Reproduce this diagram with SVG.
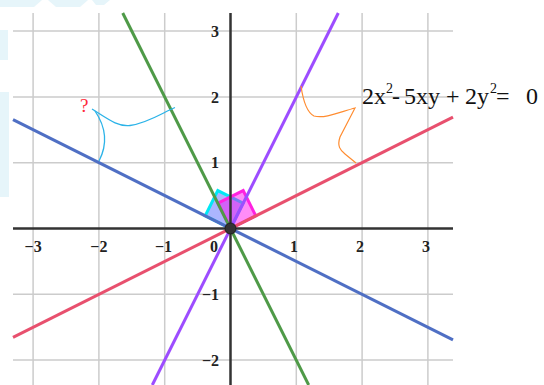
<svg xmlns="http://www.w3.org/2000/svg" width="544" height="385" viewBox="0 0 544 385">
<style>
.grid{stroke:#cccccc;stroke-width:1.5;fill:none}
.axis{stroke:#333333;stroke-width:2.5;fill:none}
.lab{font-family:"Liberation Serif","Times New Roman",serif;font-weight:bold;font-size:16px;fill:#222222}
.ln{stroke-width:3;fill:none;stroke-linecap:butt}
.eq{font-family:"Liberation Serif","Times New Roman",serif;font-size:24px;fill:#111111}
.sup{font-size:14px}
.wm{fill:#e6f5fa}
</style>
<rect width="544" height="385" fill="#ffffff"/>
<g id="watermark">
<polygon class="wm" points="0,0 42,0 34,7 0,7"/>
<polygon class="wm" points="48,0 88,0 80,7 56,7"/>
<polygon class="wm" points="92,0 110,0 104,5 96,5"/>
<rect class="wm" x="0" y="30" width="8" height="30"/>
<rect class="wm" x="0" y="92" width="9" height="105"/>
</g>
<g id="grid">
<path class="grid" d="M33.1,13V385M98.9,13V385M164.7,13V385M296.3,13V385M362.1,13V385M427.9,13V385"/>
<path class="grid" d="M13,31.1H453M13,96.9H453M13,162.7H453M13,294.3H453M13,360.1H453"/>
</g>
<g id="right-angles">
<polygon points="230.5,228.5 205.2,215.9 217.8,190.6 243.1,203.2" fill="#5a6cff" fill-opacity="0.5" stroke="#00e8f5" stroke-width="3" stroke-linejoin="miter"/>
<polygon points="230.5,228.5 217.9,203.2 243.2,190.6 255.8,215.9" fill="#ff00f0" fill-opacity="0.45" stroke="#ff22e0" stroke-width="3" stroke-linejoin="miter"/>
</g>
<g id="axes">
<path class="axis" d="M13,228.5H453M230.5,13V385"/>
</g>
<g id="lines">
<line id="blue" class="ln" x1="13" y1="119.7" x2="453" y2="339.8" stroke="#4f6fc4"/>
<line id="red" class="ln" x1="13" y1="337.3" x2="453" y2="117.2" stroke="#e8506e"/>
<line id="purple" class="ln" x1="338.3" y1="13" x2="152.3" y2="385" stroke="#9d4dff"/>
<line id="green" class="ln" x1="122.7" y1="13" x2="308.7" y2="385" stroke="#4f9a48"/>
</g>
<circle id="origin" cx="230.5" cy="228.5" r="5.5" fill="#333333" stroke="#1a1a1a" stroke-width="1"/>
<g id="labels">
<text class="lab" x="219" y="37" text-anchor="end">3</text>
<text class="lab" x="219" y="103" text-anchor="end">2</text>
<text class="lab" x="219" y="168" text-anchor="end">1</text>
<text class="lab" x="219" y="300" text-anchor="end">−1</text>
<text class="lab" x="219" y="366" text-anchor="end">−2</text>
<text class="lab" x="33.1" y="252" text-anchor="middle">−3</text>
<text class="lab" x="98.9" y="252" text-anchor="middle">−2</text>
<text class="lab" x="163.5" y="252" text-anchor="middle">−1</text>
<text class="lab" x="214" y="252" text-anchor="middle">0</text>
<text class="lab" x="294" y="252" text-anchor="middle">1</text>
<text class="lab" x="360" y="252" text-anchor="middle">2</text>
<text class="lab" x="426" y="252" text-anchor="middle">3</text>
</g>
<g id="equation">
<text class="eq" y="104"><tspan x="362">2x</tspan><tspan class="sup" x="386" y="93">2</tspan><tspan x="392" y="104">-</tspan><tspan x="404">5xy</tspan><tspan x="446">+</tspan><tspan x="465">2y</tspan><tspan class="sup" x="490" y="93">2</tspan><tspan x="496" y="104">=</tspan><tspan x="526">0</tspan></text>
</g>
<g id="callouts">
<text x="80" y="112" font-family="Liberation Serif, Times New Roman, serif" font-size="19" fill="#ff2a3a">?</text>
<path d="M92,109 C108,119 118,127 130,125.5 C148,123 162,113 175,107.5" fill="none" stroke="#2bb3e8" stroke-width="1.3"/>
<path d="M95,111 Q112,136 99,161" fill="none" stroke="#2bb3e8" stroke-width="1.3"/>
<path d="M301,86 C303,100 306,112 314,116 C325,119 340,112 355,108 L340,137 C337,146 340,150 345,154 L356,163" fill="none" stroke="#ff8c30" stroke-width="1.2"/>
</g>
</svg>
